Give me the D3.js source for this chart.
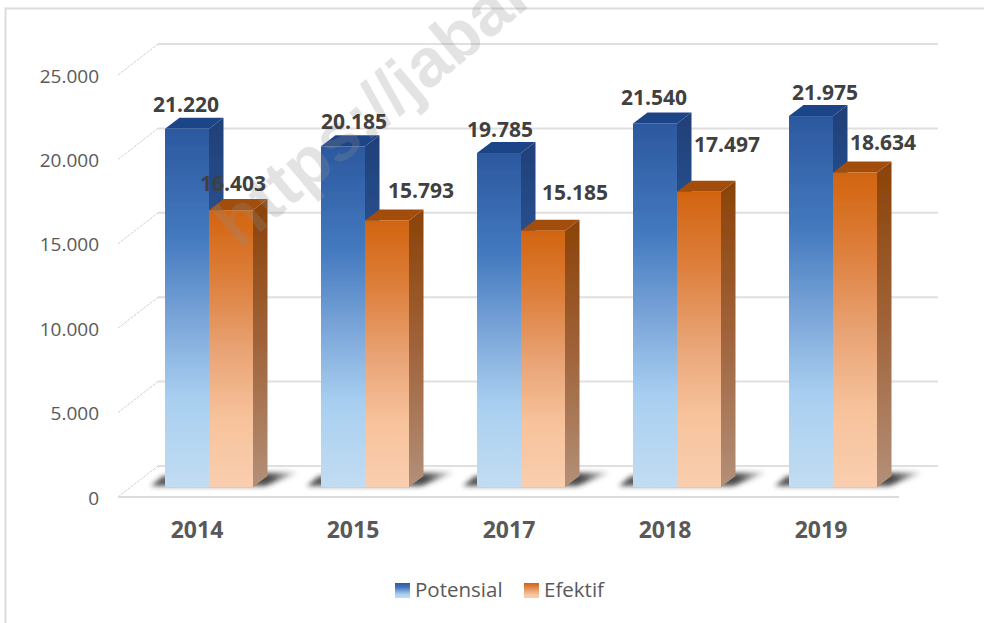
<!DOCTYPE html>
<html><head><meta charset="utf-8">
<style>html,body{margin:0;padding:0;background:#fff}svg{display:block}</style>
<script src="https://cdnjs.cloudflare.com/ajax/libs/d3/7.8.5/d3.min.js"></script>
</head><body><div id="c"></div>
<script>
const years = ["2014","2015","2017","2018","2019"];
const seriesNames = ["Potensial","Efektif"];
const potensial = [21220,20185,19785,21540,21975];
const efektif = [16403,15793,15185,17497,18634];
const yTicks = [0,5000,10000,15000,20000,25000];
const labelNudgePotensial = [[-1,-24],[11,-25],[1,-24],[-1,-26],[14,-24]];
const labelNudgeEfektif = [[2,-27],[34,-30],[32,-38],[28,-47],[28,-30]];

const W=984,H=623;
const svg=d3.select("#c").append("svg").attr("width",W).attr("height",H);
const font='"Open Sans",sans-serif';
const fmt=v=>d3.format(",")(v).replace(/,/g,".");

const y=d3.scaleLinear().domain([0,25000]).range([487,65]);
const x0=d3.scaleBand().domain(years).range([119,899]);
const x1=d3.scaleBand().domain(seriesNames).range([46,134]);
const color=d3.scaleOrdinal().domain(seriesNames).range(["blue","orange"]);
const dx=14.5,dy=11, wallDy=-21, floorDy=10;

const defs=svg.append("defs");
function grad(id,stops){
  const g=defs.append("linearGradient").attr("id",id).attr("x1",0).attr("y1",0).attr("x2",0).attr("y2",1);
  stops.forEach(s=>g.append("stop").attr("offset",s[0]).attr("stop-color",s[1]));
}
grad("blue-front",[[0,"#2c589f"],[.3,"#4379bf"],[.55,"#7ea8da"],[.75,"#a8cff0"],[1,"#c2dcf2"]]);
grad("orange-front",[[0,"#d2640f"],[.25,"#dd7f3c"],[.5,"#e8a273"],[.75,"#f7c29b"],[1,"#f9ceaf"]]);
grad("blue-side",[[0,"#1f3f78"],[.5,"#2f5f9f"],[1,"#6f94bd"]]);
grad("orange-side",[[0,"#8a4207"],[.5,"#a0633a"],[1,"#b39078"]]);
defs.append("filter").attr("id","soft").attr("x","-20%").attr("y","-40%").attr("width","140%").attr("height","180%")
  .append("feGaussianBlur").attr("stdDeviation",2.6);
defs.append("filter").attr("id","ink").append("feGaussianBlur").attr("stdDeviation",0.4);
const sg=defs.append("linearGradient").attr("id","shade").attr("x1",0).attr("x2",1).attr("y1",0).attr("y2",0);
[[0,.85],[.2,.75],[.8,.85],[1,.0]].forEach(s=>sg.append("stop").attr("offset",s[0]).attr("stop-color","#2a2a2a").attr("stop-opacity",s[1]));

// chart frame
const frame="#dcdcdc";
svg.append("path").attr("d","M5.5,623V8.5H984").attr("fill","none").attr("stroke",frame).attr("stroke-width",2);

// walls
const wallX0=158,wallX1=938,sideX=118;
const grid=svg.append("g").attr("filter","url(#ink)");
yTicks.forEach(t=>{
  const yy=y(t)+wallDy;
  grid.append("line").attr("x1",wallX0).attr("x2",wallX1).attr("y1",yy).attr("y2",yy)
    .attr("stroke","#dfdfdf").attr("stroke-width",2);
  grid.append("line").attr("x1",sideX).attr("x2",wallX0).attr("y1",yy+31).attr("y2",yy)
    .attr("stroke","#d0d0d0").attr("stroke-width",1).attr("stroke-dasharray","3 1");
});
grid.append("line").attr("x1",sideX).attr("x2",x0.range()[1]).attr("y1",y(0)+floorDy).attr("y2",y(0)+floorDy)
  .attr("stroke","#dcdcdc").attr("stroke-width",2);

// shadows
years.forEach(yr=>{
  const a=x0(yr)+x1("Potensial"), b=x0(yr)+x1("Efektif")+x1.bandwidth();
  const base=y(0);
  svg.append("path").attr("filter","url(#soft)").attr("fill","url(#shade)")
    .attr("d",`M${a-14},${base-1}L${a-2},${base-11}L${b+47},${base-15}L${b+12},${base-1}Z`);
});

// bars
const bars=svg.append("g").attr("filter","url(#ink)");
function drawSeries(name,vals){
  const key=color(name);
  vals.forEach((v,i)=>{
    const g=bars.append("g");
    const l=x0(years[i])+x1(name), r=l+x1.bandwidth(), t=y(v), b=y(0);
    g.append("path").attr("fill",`url(#${key}-side)`)
      .attr("d",`M${r},${t}L${r+dx},${t-dy}V${b-dy}L${r},${b}Z`);
    g.append("path").attr("fill",key==="blue"?"#1f4488":"#a34d0b")
      .attr("d",`M${l},${t}L${l+dx},${t-dy}H${r+dx}L${r},${t}Z`);
    g.append("rect").attr("x",l).attr("y",t).attr("width",x1.bandwidth()).attr("height",b-t)
      .attr("fill",`url(#${key}-front)`);
  });
}
drawSeries("Potensial",potensial);
drawSeries("Efektif",efektif);

// watermark
svg.append("text").attr("transform","translate(239,250) rotate(-40)")
  .attr("font-family",'"Liberation Sans",sans-serif').attr("font-weight",700).attr("font-size",68)
  .attr("fill","#8f8f8f").attr("fill-opacity",.25).text("https://jabar");

// y tick labels
svg.append("g").selectAll("text").data(yTicks).join("text")
  .attr("x",99).attr("y",d=>y(d)+floorDy+1).attr("dy","0.35em").attr("text-anchor","end")
  .attr("font-family",font).attr("font-size",19).attr("fill","#595959").text(fmt);

// x labels
svg.append("g").selectAll("text").data(years).join("text")
  .attr("x",d=>x0(d)+x0.bandwidth()/2).attr("y",538).attr("text-anchor","middle")
  .attr("font-family",font).attr("font-weight",700).attr("font-size",23).attr("fill","#595959").text(d=>d);

// value labels
function valueLabels(name,vals,nudge){
  svg.append("g").selectAll("text").data(vals).join("text")
    .attr("x",(d,i)=>x0(years[i])+x1(name)+x1.bandwidth()/2+nudge[i][0])
    .attr("y",(d)=>y(d)).attr("dy",(d,i)=>nudge[i][1]+7.5)
    .attr("text-anchor","middle").attr("font-family",font).attr("font-weight",700)
    .attr("font-size",21).attr("fill","#404040").text(fmt);
}
valueLabels("Potensial",potensial,labelNudgePotensial);
valueLabels("Efektif",efektif,labelNudgeEfektif);

// legend
const legendX={Potensial:395,Efektif:524};
seriesNames.forEach(n=>{
  svg.append("rect").attr("x",legendX[n]).attr("y",583).attr("width",15).attr("height",15)
    .attr("fill",`url(#${color(n)}-front)`);
  svg.append("text").attr("x",legendX[n]+20).attr("y",597).attr("font-family",font)
    .attr("font-size",20.5).attr("fill","#595959").text(n);
});
</script></body></html>
